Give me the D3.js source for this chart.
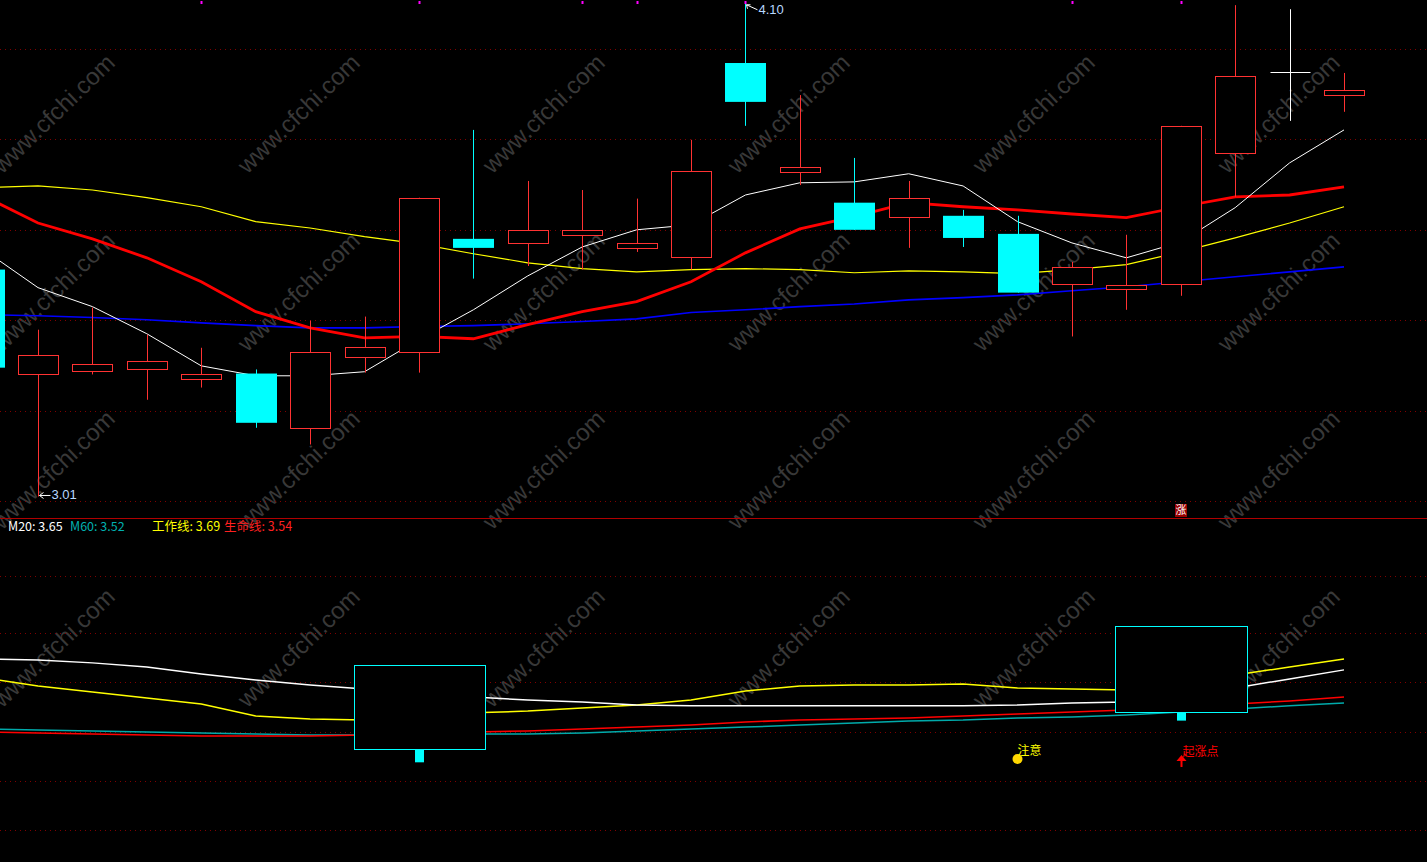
<!DOCTYPE html>
<html><head><meta charset="utf-8">
<script src="https://cdn.jsdelivr.net/npm/d3@7"></script>
<style>html,body{margin:0;padding:0;background:#000;overflow:hidden}</style>
</head><body>
<svg id="c" width="1427" height="862"></svg>
<script>
// ---------- data ----------
const bars = d3.range(26);
const opens  = [3.512,3.282,3.288,3.291,3.271,3.282,3.162,3.319,3.330,3.580,3.571,3.589,3.560,3.540,3.969,3.728,3.660,3.629,3.631,3.591,3.481,3.470,3.481,3.770,3.949,3.898];
const closes = [3.295,3.322,3.302,3.310,3.282,3.173,3.330,3.341,3.671,3.560,3.600,3.600,3.571,3.730,3.883,3.739,3.600,3.671,3.582,3.461,3.518,3.478,3.830,3.940,3.949,3.909];
const highs  = [3.530,3.379,3.428,3.368,3.339,3.291,3.399,3.408,3.671,3.821,3.708,3.688,3.669,3.799,4.100,3.898,3.759,3.708,3.644,3.631,3.529,3.589,3.830,4.097,4.088,3.947];
const lows   = [3.280,3.010,3.280,3.224,3.251,3.162,3.125,3.284,3.284,3.492,3.520,3.512,3.551,3.512,3.830,3.699,3.600,3.560,3.562,3.461,3.364,3.423,3.454,3.673,3.841,3.861];

const maWhite  = [3.556,3.472,3.430,3.370,3.299,3.277,3.277,3.286,3.357,3.423,3.498,3.562,3.600,3.611,3.677,3.704,3.706,3.724,3.697,3.618,3.571,3.538,3.573,3.649,3.748,3.821];
const maYellow = [3.693,3.697,3.688,3.671,3.651,3.618,3.604,3.585,3.569,3.547,3.527,3.514,3.507,3.512,3.514,3.512,3.505,3.509,3.507,3.503,3.512,3.523,3.551,3.582,3.615,3.651];
const maRed    = [3.675,3.615,3.580,3.538,3.485,3.419,3.383,3.361,3.364,3.359,3.390,3.419,3.441,3.485,3.549,3.602,3.629,3.660,3.651,3.644,3.635,3.627,3.651,3.673,3.677,3.695];
const maBlue   = [3.412,3.410,3.406,3.401,3.394,3.388,3.383,3.383,3.386,3.388,3.392,3.397,3.403,3.417,3.423,3.430,3.436,3.445,3.450,3.456,3.465,3.474,3.485,3.496,3.507,3.518];

const subM20  = [3.690,3.686,3.675,3.659,3.632,3.609,3.590,3.574,3.555,3.543,3.532,3.524,3.512,3.509,3.509,3.509,3.509,3.509,3.509,3.512,3.520,3.524,3.547,3.578,3.613,3.648];
const subM60  = [3.420,3.416,3.412,3.408,3.404,3.400,3.397,3.397,3.397,3.400,3.400,3.404,3.412,3.420,3.427,3.435,3.443,3.451,3.454,3.462,3.466,3.474,3.485,3.497,3.509,3.520];
const subWork = [3.617,3.586,3.563,3.539,3.516,3.470,3.458,3.454,3.470,3.482,3.489,3.501,3.512,3.532,3.566,3.586,3.590,3.590,3.593,3.578,3.574,3.570,3.593,3.628,3.659,3.690];
const subLife = [3.408,3.404,3.400,3.397,3.393,3.393,3.393,3.397,3.404,3.408,3.412,3.420,3.427,3.435,3.447,3.454,3.458,3.462,3.470,3.478,3.485,3.493,3.501,3.516,3.528,3.543];

const legendNames  = ["M20","M60","工作线","生命线"];
const legendValues = [3.65,3.52,3.69,3.54];

const topGridVals = [4.0,3.8,3.6,3.4,3.2,3.0];
const subGridVals = [4.01,3.79,3.60,3.41,3.22,3.03];

const markBars = [4,8,11,12,14,20,22];

const boxStart  = [7,21];
const boxEnd    = [9,23];
const boxTop    = [3.667,3.817];
const boxBottom = [3.343,3.485];
const stubBar    = [8,22];
const stubBottom = [3.293,3.454];

const noticeBar = 19, noticeVal = 3.304, noticeText = "注意";
const riseBar = 22, riseTip = 3.319, riseBase = 3.273, riseText = "起涨点";
const zhangBar = 22, zhangText = "涨";
const hiBar = 14, loBar = 1;

// ---------- scales ----------
const W = 1427, H = 862;
const x = d3.scaleLinear().domain([0,25]).range([-16.4,1344]);
const yTop = d3.scaleLinear().domain([3.0,4.0]).range([501,49]);
const ySub = d3.scaleLinear().domain([3.0,4.0]).range([837.7,578.7]);
const bw = 40;

const svg = d3.select("#c");
svg.append("rect").attr("width",W).attr("height",H).attr("fill","#000");

// watermark
const wm = svg.append("g");
const wmCols = d3.range(6), wmRows = d3.range(4);
wmRows.forEach(r => wmCols.forEach(c => {
  const cx = 55 + c*245, cy = 115 + r*178;
  wm.append("text").attr("transform",`translate(${cx},${cy}) rotate(-44)`)
    .attr("text-anchor","middle").attr("dominant-baseline","middle")
    .attr("font-family","Liberation Sans, Arial, sans-serif").attr("font-size",24)
    .attr("fill","#383838").text("www.cfchi.com");
}));

// grid
svg.append("g").selectAll("line").data(topGridVals).join("line")
  .attr("x1",0).attr("x2",W).attr("y1",d=>Math.round(yTop(d))+0.5).attr("y2",d=>Math.round(yTop(d))+0.5)
  .attr("stroke","#800000").attr("stroke-dasharray","1,4");
svg.append("g").selectAll("line").data(subGridVals).join("line")
  .attr("x1",0).attr("x2",W).attr("y1",d=>Math.round(ySub(d))+0.5).attr("y2",d=>Math.round(ySub(d))+0.5)
  .attr("stroke","#800000").attr("stroke-dasharray","1,4");

// separator
svg.append("line").attr("x1",0).attr("x2",W).attr("y1",518.5).attr("y2",518.5).attr("stroke","#b00000").attr("stroke-width",1);

function drawLine(vals, yS, color, w){
  const l = d3.line().x((d,i)=>x(i)).y(d=>yS(d));
  svg.append("path").attr("d",l(vals)).attr("fill","none").attr("stroke",color).attr("stroke-width",w);
}
drawLine(maBlue, yTop, "#0000ff", 1.6);
drawLine(maYellow, yTop, "#ffff00", 1.2);
drawLine(maRed, yTop, "#ff0000", 2.8);
drawLine(maWhite, yTop, "#ffffff", 1);

// candles
const cg = svg.append("g");
bars.forEach(i => {
  const o = opens[i], c = closes[i], h = highs[i], l = lows[i];
  const cx = Math.round(x(i)) + 0.5;
  const up = c > o, flat = Math.abs(c-o) < 1e-9;
  const col = flat ? "#ffffff" : (up ? "#ff3232" : "#00ffff");
  cg.append("line").attr("x1",cx).attr("x2",cx).attr("y1",yTop(h)).attr("y2",yTop(l)).attr("stroke",col).attr("stroke-width",1);
  if (flat) {
    cg.append("line").attr("x1",cx-bw/2).attr("x2",cx+bw/2).attr("y1",Math.round(yTop(o))+0.5).attr("y2",Math.round(yTop(o))+0.5).attr("stroke",col);
  } else if (up) {
    const yt = Math.round(yTop(c))+0.5, yb = Math.round(yTop(o))+0.5;
    cg.append("rect").attr("x",cx-bw/2).attr("y",yt).attr("width",bw).attr("height",yb-yt)
      .attr("fill","#000").attr("stroke",col).attr("stroke-width",1);
  } else {
    const yt = yTop(o), yb = yTop(c);
    cg.append("rect").attr("x",cx-0.5-bw/2).attr("y",yt).attr("width",bw+1).attr("height",Math.max(1,yb-yt))
      .attr("fill",col);
  }
});

// high / low labels
const hx = Math.round(x(hiBar))+0.5, hy = yTop(highs[hiBar]);
svg.append("path").attr("d",`M${hx+1},${hy+1} L${hx+12},${hy+6}`).attr("stroke","#fff").attr("fill","none");
svg.append("path").attr("d",`M${hx+1},${hy+1} L${hx+5},${hy+1} M${hx+1},${hy+1} L${hx+2},${hy+5}`).attr("stroke","#fff").attr("fill","none");
svg.append("text").attr("x",hx+13).attr("y",hy+7).attr("dominant-baseline","middle")
  .attr("font-family","Liberation Sans, Arial, sans-serif").attr("font-size",13).attr("fill","#b8d8ff").text(highs[hiBar].toFixed(2));
const lx = Math.round(x(loBar))+0.5, ly = yTop(lows[loBar]) - 1;
svg.append("path").attr("d",`M${lx+1},${ly} L${lx+12},${ly} M${lx+1},${ly} L${lx+5},${ly-3} M${lx+1},${ly} L${lx+5},${ly+3}`).attr("stroke","#fff").attr("fill","none");
svg.append("text").attr("x",lx+13).attr("y",ly).attr("dominant-baseline","middle")
  .attr("font-family","Liberation Sans, Arial, sans-serif").attr("font-size",13).attr("fill","#b8d8ff").text(lows[loBar].toFixed(2));

// magenta marks
svg.append("g").selectAll("rect").data(markBars).join("rect")
  .attr("x",d=>Math.round(x(d))-0.5).attr("y",1).attr("width",2).attr("height",3).attr("fill","#ff00ff");

// 涨 label
const zx = Math.round(x(zhangBar));
svg.append("rect").attr("x",zx-6).attr("y",504).attr("width",12).attr("height",13).attr("fill","#990000");
svg.append("text").attr("x",zx).attr("y",511).attr("text-anchor","middle").attr("dominant-baseline","middle")
  .attr("font-family","Noto Sans CJK SC, sans-serif").attr("font-size",11).attr("fill","#fff").text(zhangText);

// legend
const legendColors = ["#ffffff","#00b0b0","#ffff00","#ff2020"];
const legendX = [8,70,152,224];
legendNames.forEach((n,i)=>{
  svg.append("text").attr("x",legendX[i]).attr("y",531)
    .attr("font-family","Noto Sans CJK SC, Liberation Sans, sans-serif").attr("font-size",12.5)
    .attr("fill",legendColors[i]).text(`${n}: ${legendValues[i].toFixed(2)}`);
});

// sub panel lines
drawLine(subM60, ySub, "#00aaaa", 1.5);
drawLine(subLife, ySub, "#ff0000", 1.5);
drawLine(subWork, ySub, "#ffff00", 1.5);
drawLine(subM20, ySub, "#ffffff", 1.5);

// boxes
boxStart.forEach((s,k)=>{
  const x0 = Math.round(x(s)-11)+0.5, x1 = Math.round(x(boxEnd[k])+12)+0.5;
  const y0 = Math.round(ySub(boxTop[k]))+0.5, y1 = Math.round(ySub(boxBottom[k]))+0.5;
  svg.append("rect").attr("x",x0).attr("y",y0).attr("width",x1-x0).attr("height",y1-y0)
    .attr("fill","#000").attr("stroke","#00ffff").attr("stroke-width",1);
  const sx = Math.round(x(stubBar[k]));
  svg.append("rect").attr("x",sx-4).attr("y",y1+0.5).attr("width",9).attr("height",ySub(stubBottom[k])-y1)
    .attr("fill","#00ffff");
});

// signals
const nx = x(noticeBar), ny = ySub(noticeVal);
svg.append("circle").attr("cx",nx).attr("cy",ny).attr("r",5).attr("fill","#ffd700");
svg.append("text").attr("x",nx).attr("y",ny-7).attr("dominant-baseline","middle")
  .attr("font-family","Noto Sans CJK SC, sans-serif").attr("font-size",12).attr("fill","#ffff00").text(noticeText);
const rx = Math.round(x(riseBar))+0.5, rt = ySub(riseTip), rb = ySub(riseBase);
svg.append("line").attr("x1",rx).attr("x2",rx).attr("y1",rt+4).attr("y2",rb).attr("stroke","#ff0000").attr("stroke-width",2);
svg.append("path").attr("d",`M${rx},${rt} L${rx-5},${rt+6} L${rx+5},${rt+6} Z`).attr("fill","#ff0000");
svg.append("text").attr("x",rx+1).attr("y",rt-2).attr("dominant-baseline","middle")
  .attr("font-family","Noto Sans CJK SC, sans-serif").attr("font-size",12).attr("fill","#ff0000").text(riseText);
</script>
</body></html>
